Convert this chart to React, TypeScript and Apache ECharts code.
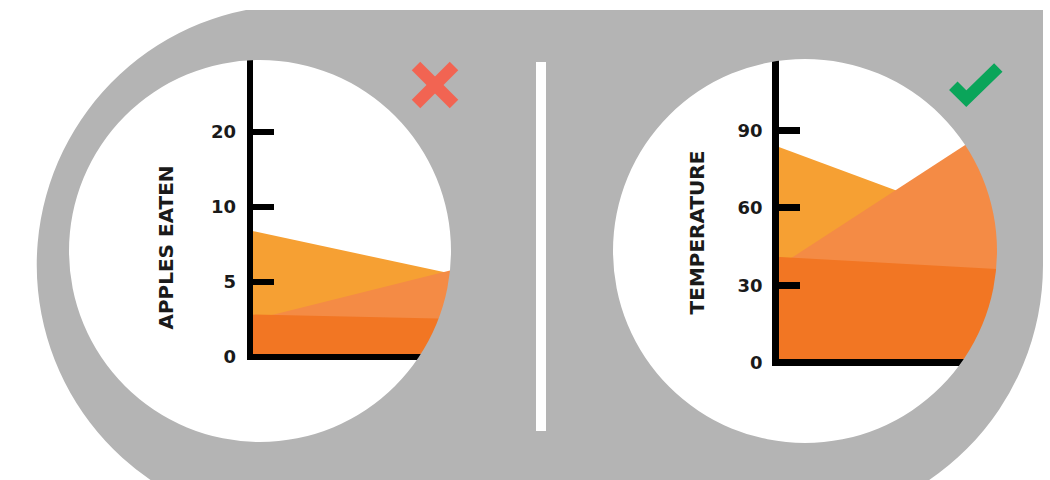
import { useEffect, useRef } from 'react';
import * as echarts from 'echarts';

// ---------- data ----------
const CATEGORIES = ['start', 'end'];

// left ("bad") chart: apples eaten, drawn on an inconsistent scale
const appleTicks = [0, 5, 10, 20];
const appleSeriesA = [8.4, 5.4];
const appleSeriesB = [2.4, 5.9];
const appleSeriesC = [2.8, 2.5];

// right ("good") chart: temperature
const tempTicks = [0, 30, 60, 90];
const tempSeriesA = [84, 51];
const tempSeriesB = [36.5, 94.5];
const tempSeriesC = [41, 36];

const COLOR_A = '#F6A033';
const COLOR_B = '#F48B45';
const COLOR_C = '#F27623';
const GRAY = '#B4B4B4';
const INK = '#1a1a1a';
const FONT = '"DejaVu Sans", sans-serif';

// piecewise scale of the misleading axis: each tick step gets the same height
function appleToAxis(v: number): number {
  const t = appleTicks;
  for (let i = 0; i < t.length - 1; i++) {
    if (v <= t[i + 1]) return i + (v - t[i]) / (t[i + 1] - t[i]);
  }
  const n = t.length - 1;
  return n + (v - t[n]) / (t[n] - t[n - 1]);
}

function circleHole(cx: number, cy: number, r: number): string {
  return (
    `M ${cx + r} ${cy} ` +
    `A ${r} ${r} 0 0 0 ${cx} ${cy - r} ` +
    `A ${r} ${r} 0 0 0 ${cx - r} ${cy} ` +
    `A ${r} ${r} 0 0 0 ${cx} ${cy + r} ` +
    `A ${r} ${r} 0 0 0 ${cx + r} ${cy} Z `
  );
}

const FRAME_D =
  'M 246 10 L 1043 10 L 1043 265 A 260 260 0 0 1 783 525 L 297 525 A 260 260 0 0 1 246 10 Z ' +
  circleHole(260, 251, 191) +
  circleHole(805, 251, 192);

let registered = false;
function registerFrame() {
  if (registered) return;
  echarts.graphic.registerShape('frame', echarts.graphic.extendPath(FRAME_D, {}) as any);
  registered = true;
}

function areaSeries(name: string, data: number[], color: string, idx: number) {
  return {
    type: 'line',
    name,
    data,
    xAxisIndex: idx,
    yAxisIndex: idx,
    symbol: 'none',
    showSymbol: false,
    silent: true,
    lineStyle: { width: 0, opacity: 0 },
    itemStyle: { color },
    areaStyle: { color, opacity: 1 },
  };
}

function xAxisDef(gridIndex: number, width: number) {
  return {
    gridIndex,
    type: 'category',
    data: CATEGORIES,
    boundaryGap: false,
    z: 5,
    axisLine: { show: true, lineStyle: { color: '#000', width, cap: 'square' } },
    axisTick: { show: false },
    axisLabel: { show: false },
    splitLine: { show: false },
  };
}

export default function App() {
  const ref = useRef<HTMLDivElement>(null);

  useEffect(() => {
    if (!ref.current) return;
    registerFrame();
    const chart = echarts.init(ref.current, undefined, { renderer: 'svg' });

    const labelStyle = {
      fontSize: 18,
      fontWeight: 'bold',
      color: INK,
      fontFamily: FONT,
    };

    const titleStyle = {
      fontSize: 20,
      fontWeight: 'bold',
      fontFamily: FONT,
      fill: INK,
      align: 'center',
      verticalAlign: 'middle',
      textAlign: 'center',
      textVerticalAlign: 'middle',
    };

    const option: any = {
      animation: false,
      backgroundColor: '#ffffff',
      grid: [
        { left: 250, top: 56.5, width: 210, height: 300 },
        { left: 775.5, top: 52.9, width: 230, height: 309.6 },
      ],
      xAxis: [xAxisDef(0, 6), xAxisDef(1, 7)],
      yAxis: [
        {
          gridIndex: 0,
          type: 'value',
          min: 0,
          max: 4,
          interval: 1,
          z: 5,
          axisLine: { show: true, lineStyle: { color: '#000', width: 6, cap: 'square' } },
          axisTick: {
            show: true,
            inside: true,
            length: 24,
            customValues: [0, 1, 2, 3],
            lineStyle: { color: '#000', width: 6 },
          },
          axisLabel: {
            ...labelStyle,
            margin: 14,
            customValues: [0, 1, 2, 3],
            formatter: (v: number) => (appleTicks[v] !== undefined ? String(appleTicks[v]) : ''),
          },
          splitLine: { show: false },
        },
        {
          gridIndex: 1,
          type: 'value',
          min: 0,
          max: 120,
          interval: 30,
          z: 5,
          axisLine: { show: true, lineStyle: { color: '#000', width: 7, cap: 'square' } },
          axisTick: {
            show: true,
            inside: true,
            length: 24.5,
            customValues: tempTicks,
            lineStyle: { color: '#000', width: 7 },
          },
          axisLabel: {
            ...labelStyle,
            margin: 13,
            customValues: tempTicks,
            formatter: (v: number) => (tempTicks.indexOf(v) >= 0 ? String(v) : ''),
          },
          splitLine: { show: false },
        },
      ],
      series: [
        areaSeries('A', appleSeriesA.map(appleToAxis), COLOR_A, 0),
        areaSeries('B', appleSeriesB.map(appleToAxis), COLOR_B, 0),
        areaSeries('C', appleSeriesC.map(appleToAxis), COLOR_C, 0),
        areaSeries('A', tempSeriesA, COLOR_A, 1),
        areaSeries('B', tempSeriesB, COLOR_B, 1),
        areaSeries('C', tempSeriesC, COLOR_C, 1),
      ],
      graphic: [
        { type: 'frame', x: 0, y: 0, z: 100, silent: true, style: { fill: GRAY } },
        {
          type: 'rect',
          z: 101,
          silent: true,
          shape: { x: 536, y: 62, width: 10, height: 369 },
          style: { fill: '#ffffff' },
        },
        {
          type: 'line',
          z: 101,
          silent: true,
          shape: { x1: 416, y1: 66, x2: 454, y2: 104 },
          style: { stroke: '#F26452', lineWidth: 12 },
        },
        {
          type: 'line',
          z: 101,
          silent: true,
          shape: { x1: 454, y1: 66, x2: 416, y2: 104 },
          style: { stroke: '#F26452', lineWidth: 12 },
        },
        {
          type: 'polyline',
          z: 101,
          silent: true,
          shape: { points: [[953.3, 85.8], [966.3, 98.7], [998.3, 67.5]] },
          style: { stroke: '#0AA55A', lineWidth: 12, lineJoin: 'miter', fill: null },
        },
        {
          type: 'text',
          z: 101,
          x: 165.5,
          y: 247.5,
          rotation: Math.PI / 2,
          style: { text: 'APPLES EATEN', ...titleStyle },
        },
        {
          type: 'text',
          z: 101,
          x: 696.5,
          y: 232.5,
          rotation: Math.PI / 2,
          style: { text: 'TEMPERATURE', ...titleStyle },
        },
      ],
    };

    chart.setOption(option);
    return () => chart.dispose();
  }, []);

  return (
    <div
      ref={ref}
      style={{ position: 'fixed', left: 0, top: 0, width: 1050, height: 480 }}
    />
  );
}
